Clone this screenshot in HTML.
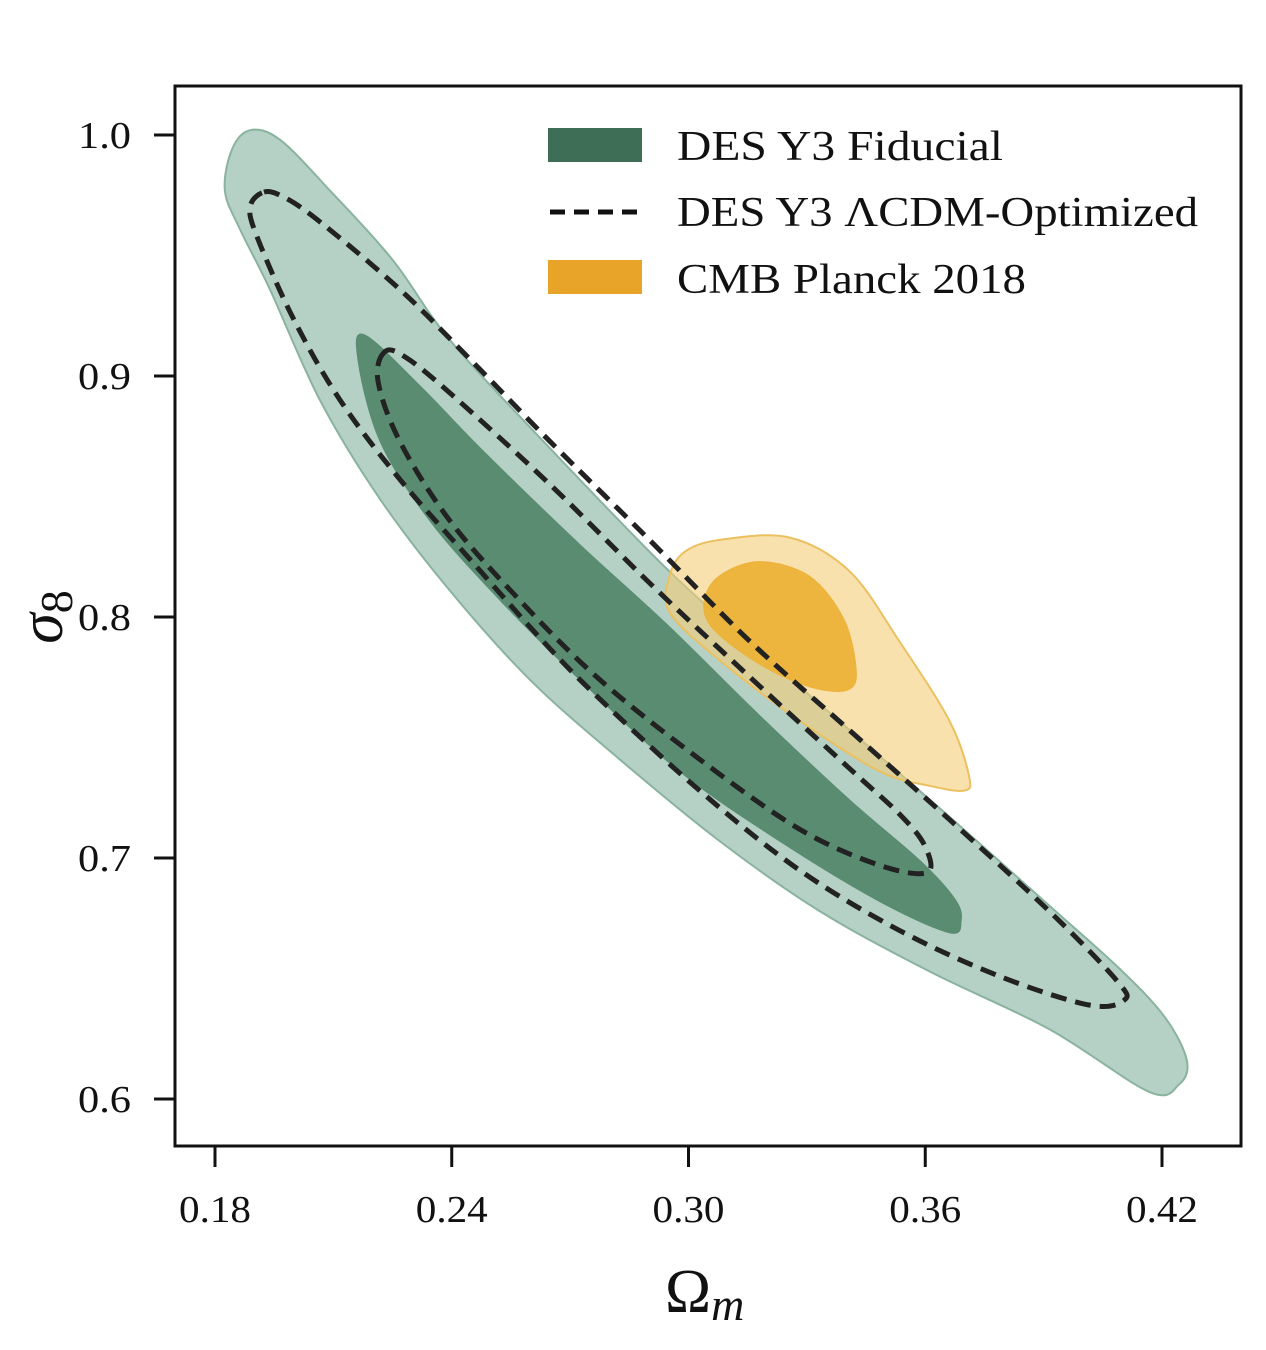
<!DOCTYPE html>
<html><head><meta charset="utf-8"><style>
html,body{margin:0;padding:0;background:#fff;}
svg{display:block;}
text{font-family:"Liberation Serif",serif;fill:#111;}
</style></head><body>
<svg id="chart" width="1266" height="1350" viewBox="0 0 1266 1350" xmlns="http://www.w3.org/2000/svg">
<g id="plot"></g>
<rect x="175" y="86" width="1066" height="1060" fill="none" stroke="#111" stroke-width="3"/>
<g id="axes"></g>
<text x="665" y="1312" font-size="62">Ω<tspan font-size="46" dy="8" font-style="italic">m</tspan></text>
<text transform="translate(62,617) rotate(-90)" text-anchor="middle" font-size="62" font-style="italic">σ<tspan font-size="46" dy="10" font-style="normal">8</tspan></text>
<g>
<rect x="548" y="128" width="94" height="34" fill="#3e6e56"/>
<text x="677" y="160" font-size="42" textLength="326" lengthAdjust="spacingAndGlyphs">DES Y3 Fiducial</text>
<line x1="550" y1="212" x2="642" y2="212" stroke="#111" stroke-width="5" stroke-dasharray="15,9"/>
<text x="677" y="226" font-size="42" textLength="521" lengthAdjust="spacingAndGlyphs">DES Y3 ΛCDM-Optimized</text>
<rect x="548" y="260" width="94" height="34" fill="#e8a428"/>
<text x="677" y="293" font-size="42" textLength="349" lengthAdjust="spacingAndGlyphs">CMB Planck 2018</text>
</g>
</svg>
<script>
const xTicks=[0.18,0.24,0.30,0.36,0.42];
const xTickLabels=["0.18","0.24","0.30","0.36","0.42"];
const yTicks=[0.6,0.7,0.8,0.9,1.0];
const yTickLabels=["0.6","0.7","0.8","0.9","1.0"];
const fidOuter=[[0.1889,1.002],[0.1843,0.994],[0.1825,0.977],[0.1863,0.961],[0.1939,0.936],[0.2066,0.890],[0.2218,0.849],[0.2395,0.811],[0.2598,0.774],[0.2825,0.741],[0.3079,0.707],[0.3332,0.678],[0.3610,0.653],[0.3914,0.629],[0.4167,0.603],[0.4243,0.606],[0.4263,0.616],[0.4207,0.634],[0.4093,0.654],[0.3916,0.680],[0.3662,0.717],[0.3409,0.753],[0.3156,0.789],[0.2945,0.820],[0.2649,0.870],[0.2395,0.915],[0.2251,0.948],[0.2091,0.977],[0.1965,0.998]];
const fidInner=[[0.2180,0.917],[0.2162,0.907],[0.2218,0.873],[0.2344,0.840],[0.2522,0.807],[0.2724,0.774],[0.2977,0.736],[0.3231,0.707],[0.3484,0.682],[0.3661,0.669],[0.3691,0.674],[0.3675,0.683],[0.3586,0.699],[0.3409,0.724],[0.3181,0.759],[0.2945,0.797],[0.2725,0.830],[0.2479,0.869],[0.2319,0.896]];
const lcdmOuter=[[0.1919,0.976],[0.1889,0.970],[0.1906,0.958],[0.1998,0.924],[0.2117,0.890],[0.2269,0.857],[0.2446,0.824],[0.2631,0.790],[0.2775,0.766],[0.3028,0.728],[0.3281,0.695],[0.3534,0.670],[0.3787,0.651],[0.4015,0.639],[0.4104,0.641],[0.4086,0.649],[0.3914,0.678],[0.3661,0.716],[0.3408,0.753],[0.3155,0.790],[0.2901,0.832],[0.2648,0.873],[0.2446,0.907],[0.2268,0.936],[0.2058,0.965],[0.1965,0.975]];
const lcdmInner=[[0.2230,0.910],[0.2213,0.898],[0.2268,0.873],[0.2395,0.840],[0.2572,0.807],[0.2775,0.774],[0.3028,0.741],[0.3281,0.712],[0.3484,0.697],[0.3605,0.694],[0.3599,0.705],[0.3536,0.718],[0.3409,0.737],[0.3156,0.775],[0.2902,0.814],[0.2649,0.855],[0.2395,0.893],[0.2281,0.908]];
const planckOuter=[[0.2952,0.817],[0.2990,0.827],[0.3079,0.832],[0.3256,0.833],[0.3408,0.819],[0.3534,0.790],[0.3661,0.757],[0.3711,0.734],[0.3699,0.728],[0.3610,0.730],[0.3484,0.736],[0.3281,0.757],[0.3079,0.782],[0.2952,0.802]];
const planckInner=[[0.3040,0.807],[0.3078,0.817],[0.3179,0.823],[0.3306,0.817],[0.3394,0.799],[0.3425,0.778],[0.3407,0.770],[0.3331,0.770],[0.3230,0.776],[0.3128,0.786],[0.3053,0.797]];

const X=v=>215+(v-0.18)/0.06*236.75;
const Y=v=>135+(1.0-v)/0.1*241;
const NS="http://www.w3.org/2000/svg";
function smooth(pts){
  const p=pts.map(d=>[X(d[0]),Y(d[1])]);const n=p.length;
  let s=`M${p[0][0]},${p[0][1]}`;
  for(let i=0;i<n;i++){
    const p0=p[(i-1+n)%n],p1=p[i],p2=p[(i+1)%n],p3=p[(i+2)%n];
    const c1=[p1[0]+(p2[0]-p0[0])/6,p1[1]+(p2[1]-p0[1])/6];
    const c2=[p2[0]-(p3[0]-p1[0])/6,p2[1]-(p3[1]-p1[1])/6];
    s+=`C${c1[0]},${c1[1]} ${c2[0]},${c2[1]} ${p2[0]},${p2[1]}`;
  }
  return s+'Z';
}
const plot=document.getElementById('plot');
function add(pts,name,fill,stroke,sw,dash){
  const el=document.createElementNS(NS,'path');
  el.setAttribute('d',smooth(pts));
  el.setAttribute('fill',fill);el.setAttribute('stroke',stroke);el.setAttribute('stroke-width',sw);
  if(dash)el.setAttribute('stroke-dasharray',dash);
  
  
  plot.appendChild(el);
}
add(fidOuter,'fiducial-contour-outer','#b5d1c5','#8ab39f',2);
add(fidInner,'fiducial-contour-inner','#5a8c72','#5a8c72',1);
add(planckOuter,'planck-contour-outer','rgba(245,205,120,0.6)','#ebc060',2);
add(planckInner,'planck-contour-inner','rgba(236,176,50,0.9)','#ecb33c',1);
add(lcdmOuter,'lcdm-contour-outer','none','#222',5,'16,9');
add(lcdmInner,'lcdm-contour-inner','none','#222',5,'16,9');
const axes=document.getElementById('axes');
xTicks.forEach((t,i)=>{
  const l=document.createElementNS(NS,'line');
  l.setAttribute('x1',X(t));l.setAttribute('x2',X(t));l.setAttribute('y1',1146);l.setAttribute('y2',1167);
  l.setAttribute('stroke','#111');l.setAttribute('stroke-width',3);
  
  
  axes.appendChild(l);
  const tx=document.createElementNS(NS,'text');
  tx.setAttribute('x',X(t)-36);tx.setAttribute('y',1222);tx.setAttribute('font-size','38');
  tx.setAttribute('textLength','72');tx.setAttribute('lengthAdjust','spacingAndGlyphs');
  tx.textContent=xTickLabels[i];
  
  
  axes.appendChild(tx);
});
yTicks.forEach((t,i)=>{
  const l=document.createElementNS(NS,'line');
  l.setAttribute('x1',154);l.setAttribute('x2',175);l.setAttribute('y1',Y(t));l.setAttribute('y2',Y(t));
  l.setAttribute('stroke','#111');l.setAttribute('stroke-width',3);
  
  
  axes.appendChild(l);
  const tx=document.createElementNS(NS,'text');
  tx.setAttribute('x',78);tx.setAttribute('y',Y(t)+13);tx.setAttribute('font-size','38');
  tx.setAttribute('textLength','53');tx.setAttribute('lengthAdjust','spacingAndGlyphs');
  tx.textContent=yTickLabels[i];
  
  
  axes.appendChild(tx);
});
</script>
</body></html>
